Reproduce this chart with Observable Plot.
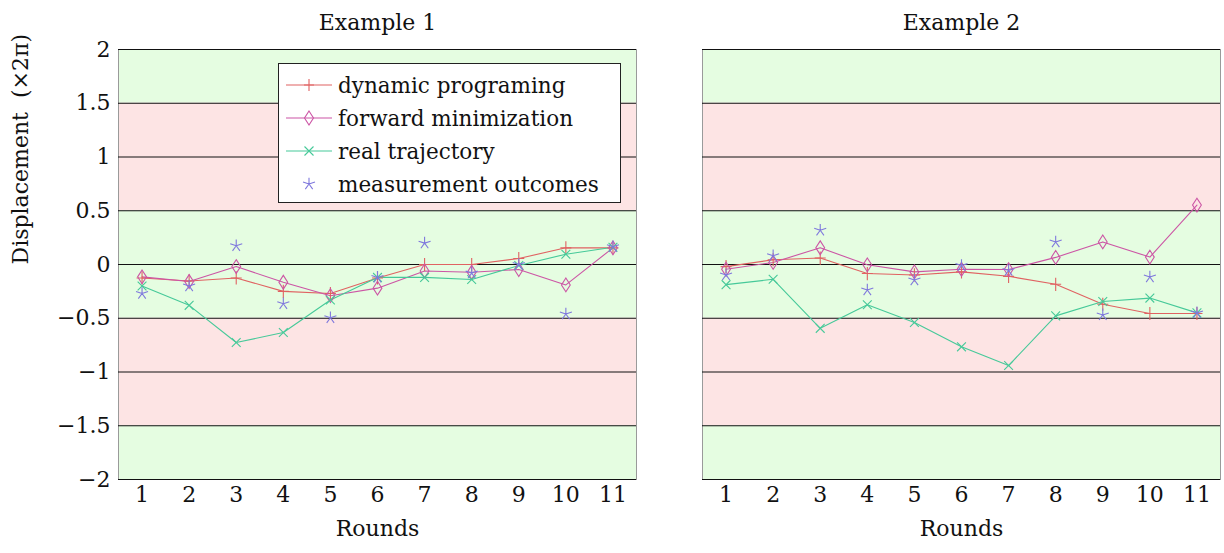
<!DOCTYPE html>
<html>
<head>
<meta charset="utf-8">
<script src="https://cdn.jsdelivr.net/npm/d3@7"></script>
<script src="https://cdn.jsdelivr.net/npm/@observablehq/plot@0.6"></script>
<style>
  html, body { margin: 0; padding: 0; background: #fff; }
  #wrap { position: relative; width: 1224px; height: 553px; font-family: "DejaVu Serif", serif; }
  #left, #right { position: absolute; top: 0; }
  #left { left: 0; }
  #right { left: 640px; }
  #legend { position: absolute; left: 278px; top: 63px; width: 341px; height: 138px; border: 1px solid #222; background: #fff; box-sizing: content-box; }
  .entry { position: absolute; left: 0; height: 30px; display: flex; align-items: center; font-size: 21.5px; color: #111; }
  .entry svg { margin-left: 7px; margin-right: 6px; }
</style>
</head>
<body>
<div id="wrap">
  <div id="left"></div>
  <div id="right"></div>
  <div id="legend"></div>
</div>
<script>
const rounds = [1, 2, 3, 4, 5, 6, 7, 8, 9, 10, 11];
const seriesNames = ["dynamic programing", "forward minimization", "real trajectory", "measurement outcomes"];
const seriesColors = ["#e06262", "#cc55a5", "#46c999", "#7f78dd"];

const ex1_dp = [-0.125, -0.153, -0.125, -0.25, -0.27, -0.125, 0.0, 0.0, 0.056, 0.155, 0.155];
const ex1_fm = [-0.115, -0.158, -0.019, -0.165, -0.29, -0.22, -0.06, -0.072, -0.047, -0.19, 0.155];
const ex1_rt = [-0.2, -0.38, -0.726, -0.633, -0.33, -0.12, -0.12, -0.14, -0.01, 0.096, 0.16];
const ex1_mo = [-0.27, -0.2, 0.174, -0.365, -0.495, -0.12, 0.199, -0.08, 0.0, -0.46, 0.165];

const ex2_dp = [-0.02, 0.044, 0.06, -0.084, -0.097, -0.069, -0.11, -0.184, -0.37, -0.456, -0.456];
const ex2_fm = [-0.044, 0.019, 0.156, -0.003, -0.069, -0.044, -0.047, 0.066, 0.21, 0.069, 0.553];
const ex2_rt = [-0.1875, -0.1375, -0.594, -0.375, -0.54, -0.766, -0.94, -0.478, -0.344, -0.3125, -0.45];
const ex2_mo = [-0.097, 0.081, 0.319, -0.2375, -0.144, -0.01, -0.056, 0.209, -0.469, -0.116, -0.45];

const yTicks = [-2, -1.5, -1, -0.5, 0, 0.5, 1, 1.5, 2];
const bandLo = [1.5, 0.5, -0.5, -1.5, -2];
const bandHi = [2, 1.5, 0.5, -0.5, -1.5];
const bandKind = ["good", "bad", "good", "bad", "good"];

// custom stroke symbols (pgfplots-like)
const symPlus = { draw(c, s) { const r = Math.sqrt(s / Math.PI); c.moveTo(-r, 0); c.lineTo(r, 0); c.moveTo(0, -r * 1.2); c.lineTo(0, r * 1.2); } };
const symDiamond = { draw(c, s) { const r = Math.sqrt(s / Math.PI); c.moveTo(0, -r * 1.25); c.lineTo(r * 0.8, 0); c.lineTo(0, r * 1.25); c.lineTo(-r * 0.8, 0); c.closePath(); } };
const symTimes = { draw(c, s) { const r = Math.sqrt(s / Math.PI) * 0.8; c.moveTo(-r, -r); c.lineTo(r, r); c.moveTo(-r, r); c.lineTo(r, -r); } };
const symStar = { draw(c, s) { const r = Math.sqrt(s / Math.PI) * 1.15; for (let i = 0; i < 5; i++) { const a = -Math.PI / 2 + i * 2 * Math.PI / 5; c.moveTo(0, 0); c.lineTo(r * Math.cos(a), r * Math.sin(a)); } } };
const symbols = [symPlus, symDiamond, symTimes, symStar];

const bands = bandLo.map((lo, i) => ({ lo, hi: bandHi[i], kind: bandKind[i] }));

function series(arrs) {
  return arrs.map((arr, k) => rounds.map((r, i) => ({ round: r, value: arr[i], s: k })));
}

const FS = 22;

function panel(title, arrs, opts) {
  const data = series(arrs);
  const marks = [
    Plot.rect(bands, { y1: "lo", y2: "hi", fill: d => d.kind === "good" ? "#e5fde1" : "#fde4e4" }),
    Plot.frame({ stroke: "#9a9a9a", strokeWidth: 1 }),
    Plot.ruleY(yTicks, { stroke: "#111", strokeWidth: 1 }),
    Plot.axisX({ ticks: rounds, tickSize: 0, tickPadding: 7, fontSize: FS, label: null, tickFormat: d3.format("d") }),
    Plot.text([title], { frameAnchor: "top", dy: -35, fontSize: FS, fill: "#111" }),
    Plot.text(["Rounds"], { frameAnchor: "bottom", dy: 56, fontSize: FS, fill: "#111" })
  ];
  if (opts.yaxis) {
    marks.push(Plot.axisY({ ticks: yTicks, tickSize: 0, tickPadding: 8, fontSize: FS, label: null, tickFormat: d3.format("~g") }));
    marks.push(Plot.text(["Displacement  (×2π)"], { frameAnchor: "left", dx: -98, rotate: -90, fontSize: FS, fill: "#111" }));
  }
  data.forEach((d, k) => {
    if (k < 3) marks.push(Plot.line(d, { x: "round", y: "value", stroke: seriesColors[k], strokeWidth: 1.1 }));
  });
  data.forEach((d, k) => {
    marks.push(Plot.dot(d, { x: "round", y: "value", symbol: () => symbols[k], r: 5.5, fill: "none", stroke: seriesColors[k], strokeWidth: 1.1 }));
  });
  return Plot.plot({
    width: opts.width,
    height: 553,
    marginTop: 49,
    marginBottom: 74,
    marginLeft: opts.ml,
    marginRight: opts.mr,
    style: { fontFamily: "'DejaVu Serif', serif", color: "#111", background: "transparent", overflow: "visible" },
    x: { domain: [0.5, 11.5], axis: null },
    y: { domain: [-2, 2], axis: null },
    symbol: { type: "identity" },
    marks
  });
}

document.getElementById("left").appendChild(panel("Example 1", [ex1_dp, ex1_fm, ex1_rt, ex1_mo], { width: 640, ml: 118, mr: 4, yaxis: true }));
document.getElementById("right").appendChild(panel("Example 2", [ex2_dp, ex2_fm, ex2_rt, ex2_mo], { width: 584, ml: 62, mr: 4, yaxis: false }));

// legend
const legend = document.getElementById("legend");
const pathFor = [
  "M-5,0L5,0M0,-6L0,6",
  "M0,-7L4.5,0L0,7L-4.5,0Z",
  "M-4.5,-4.5L4.5,4.5M-4.5,4.5L4.5,-4.5",
  (() => { let p = ""; for (let i = 0; i < 5; i++) { const a = -Math.PI / 2 + i * 2 * Math.PI / 5; p += `M0,0L${(6.3 * Math.cos(a)).toFixed(2)},${(6.3 * Math.sin(a)).toFixed(2)}`; } return p; })()
];
seriesNames.forEach((name, k) => {
  const e = document.createElement("div");
  e.className = "entry";
  e.style.top = (6 + k * 33) + "px";
  const line = k < 3 ? `<line x1="0" x2="46" y1="15" y2="15" stroke="${seriesColors[k]}" stroke-width="1.2"/>` : "";
  e.innerHTML = `<svg width="46" height="30">${line}<path transform="translate(23,15)" d="${pathFor[k]}" fill="none" stroke="${seriesColors[k]}" stroke-width="1.1"/></svg><span>${name}</span>`;
  legend.appendChild(e);
});
</script>
</body>
</html>
